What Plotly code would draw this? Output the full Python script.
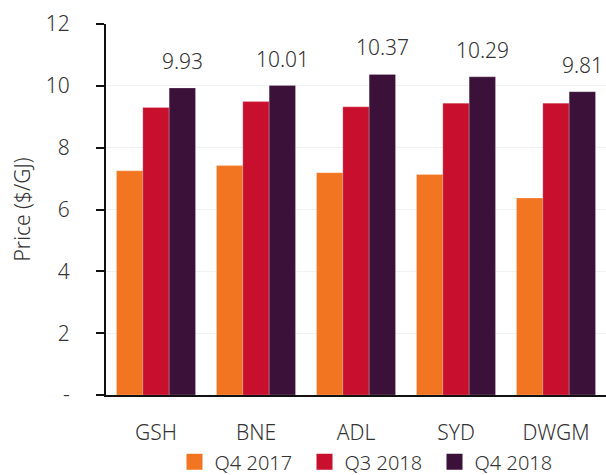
import plotly.graph_objects as go

# Hub price data ($/GJ)
hubs = ["GSH", "BNE", "ADL", "SYD", "DWGM"]
q4_2017 = [7.25, 7.42, 7.19, 7.13, 6.37]
q3_2018 = [9.30, 9.49, 9.32, 9.44, 9.44]
q4_2018 = [9.93, 10.01, 10.37, 10.29, 9.81]

series_names = ["Q4 2017", "Q3 2018", "Q4 2018"]
series_values = [q4_2017, q3_2018, q4_2018]
series_colors = ["#F27622", "#C8102E", "#3B1139"]

y_tickvals = [0, 2, 4, 6, 8, 10, 12]
y_ticktext = ["-", "2", "4", "6", "8", "10", "12"]

FONT = "Noto Sans, Open Sans, sans-serif"
WEIGHT = 300
TEXT_COLOR = "#333333"
BARGAP = 0.21


def f(size):
    return dict(family=FONT, size=size, color=TEXT_COLOR, weight=WEIGHT)


fig = go.Figure()
for name, vals, color in zip(series_names, series_values, series_colors):
    fig.add_trace(go.Bar(
        x=hubs, y=vals, name=name, legendgroup=name, showlegend=False,
        marker=dict(color=color, line=dict(color="rgba(255,255,255,0.35)", width=0.6)),
        hoverinfo="x+y+name",
    ))
    # legend entry with a larger square swatch
    fig.add_trace(go.Scatter(
        x=[None], y=[None], mode="markers", name=name, legendgroup=name,
        marker=dict(symbol="square", size=16, color=color),
    ))

# value labels over the Q4 2018 bars
plot_w = 500
cat_w = plot_w / len(hubs)
bar_w = cat_w * (1 - BARGAP) / 3
for h, v in zip(hubs, q4_2018):
    fig.add_annotation(
        x=h, y=v, text=f"{v:.2f}", showarrow=False,
        xshift=bar_w, yshift=11, yanchor="bottom",
        font=f(21),
    )

fig.update_layout(
    width=606, height=475,
    margin=dict(l=106, r=0, t=24, b=80, autoexpand=False),
    paper_bgcolor="white", plot_bgcolor="white",
    barmode="group", bargap=BARGAP, bargroupgap=0,
    font=f(20),
    showlegend=True,
    legend=dict(
        orientation="h", x=0.527, xanchor="center",
        yref="container", y=0.028, yanchor="middle",
        entrywidth=85, entrywidthmode="pixels",
        font=f(20), bgcolor="rgba(0,0,0,0)",
    ),
    xaxis=dict(
        showline=True, linecolor="#111111", linewidth=2,
        ticks="", showgrid=False, ticklabelstandoff=18,
        tickfont=f(21),
    ),
    yaxis=dict(
        range=[0, 12], tickvals=y_tickvals, ticktext=y_ticktext,
        showline=True, linecolor="#111111", linewidth=2,
        ticks="outside", ticklen=8, tickwidth=2, tickcolor="#111111",
        showgrid=True, gridcolor="#f2f2f2", gridwidth=1,
        zeroline=False, ticklabelstandoff=22,
        tickfont=f(21),
        title=dict(text="Price ($/GJ)", standoff=9, font=f(21)),
    ),
)

fig.write_html("out.html")
